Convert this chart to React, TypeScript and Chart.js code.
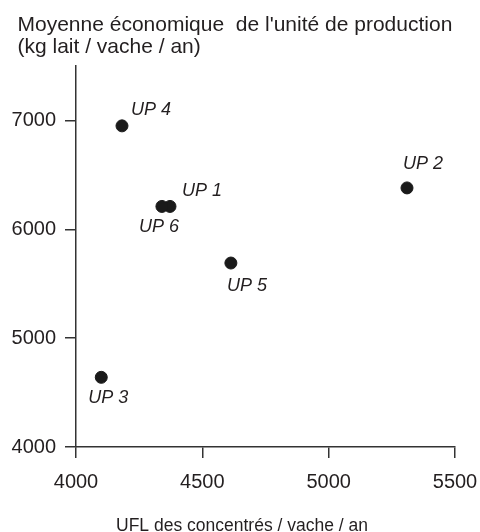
import React, { useEffect, useRef } from "react";
import { Chart, registerables } from "chart.js";

Chart.register(...registerables);

const unitNames = ["UP 1", "UP 2", "UP 3", "UP 4", "UP 5", "UP 6"];
const concentrateUFL = [4372, 5310, 4100, 4182, 4613, 4340];
const milkYield = [6210, 6380, 4640, 6950, 5690, 6210];
const xTickValues = [4000, 4500, 5000, 5500];
const yTickValues = [4000, 5000, 6000, 7000];
const titleLines = ["Moyenne économique  de l'unité de production", "(kg lait / vache / an)"];
const xAxisTitle = "UFL des concentrés / vache / an";

// label placement relative to each point (style)
const labelOffsets: [number, number][] = [
  [32, -15],
  [16, -24],
  [7, 21],
  [29, -16],
  [16, 23],
  [-3, 21],
];

const FONT = "'Liberation Sans', Arial, Helvetica, sans-serif";
const INK = "#231f20";

export default function App() {
  const ref = useRef<HTMLCanvasElement | null>(null);

  useEffect(() => {
    const canvas = ref.current;
    if (!canvas) return;

    const labelPlugin = {
      id: "pointLabels",
      afterDatasetsDraw(chart: any) {
        const ctx = chart.ctx;
        const meta = chart.getDatasetMeta(0);
        ctx.save();
        ctx.font = `italic 18px ${FONT}`;
        ctx.fillStyle = INK;
        ctx.textAlign = "center";
        ctx.textBaseline = "middle";
        meta.data.forEach((pt: any, i: number) => {
          const [dx, dy] = labelOffsets[i];
          ctx.fillText(unitNames[i], pt.x + dx, pt.y + dy);
        });
        ctx.restore();
      },
    };

    const titlesPlugin = {
      id: "titles",
      afterDraw(chart: any) {
        const ctx = chart.ctx;
        ctx.save();
        ctx.fillStyle = INK;
        ctx.textBaseline = "alphabetic";
        ctx.font = `21px ${FONT}`;
        ctx.textAlign = "left";
        titleLines.forEach((line, i) => {
          ctx.fillText(line, 17.5, 31 + i * 21.5);
        });
        ctx.font = `17.5px ${FONT}`;
        ctx.textAlign = "center";
        ctx.fillText(xAxisTitle, chart.width / 2 + 2, chart.height - 1.5);
        ctx.restore();
      },
    };

    const tickFmt = (v: any) => String(v);

    const chart = new Chart(canvas, {
      type: "scatter",
      data: {
        datasets: [
          {
            data: concentrateUFL.map((x, i) => ({ x, y: milkYield[i] })),
            backgroundColor: "#1a1a1a",
            borderColor: "#1a1a1a",
            pointRadius: 6,
            pointHoverRadius: 6,
          },
        ],
      },
      options: {
        responsive: false,
        animation: false,
        layout: { padding: { left: 6, right: 25, top: 66, bottom: 26 } },
        plugins: {
          legend: { display: false },
          tooltip: { enabled: false },
          title: { display: false },
        },
        scales: {
          x: {
            type: "linear",
            min: 4000,
            max: 5500,
            afterBuildTicks: (s: any) => {
              s.ticks = xTickValues.map((v) => ({ value: v }));
            },
            afterFit: (s: any) => {
              s.paddingRight = 0;
              s.paddingLeft = 0;
            },
            ticks: {
              color: INK,
              padding: 12,
              callback: tickFmt,
              font: { family: FONT, size: 20, lineHeight: 1.2 },
            },
            grid: {
              drawOnChartArea: false,
              drawTicks: true,
              tickLength: 11,
              color: "#333",
              lineWidth: 1.5,
            },
            border: { display: true, color: "#333", width: 1.5 },
          },
          y: {
            type: "linear",
            min: 4000,
            max: 7500,
            afterBuildTicks: (s: any) => {
              s.ticks = yTickValues.map((v) => ({ value: v }));
            },
            afterFit: (s: any) => {
              s.width = 70;
            },
            ticks: {
              color: INK,
              padding: 9,
              callback: tickFmt,
              font: { family: FONT, size: 20, lineHeight: 1.2 },
            },
            grid: {
              drawOnChartArea: false,
              drawTicks: true,
              tickLength: 11,
              color: "#333",
              lineWidth: 1.5,
            },
            border: { display: true, color: "#333", width: 1.5 },
          },
        },
      },
      plugins: [labelPlugin, titlesPlugin],
    });

    return () => chart.destroy();
  }, []);

  return (
    <div style={{ position: "fixed", left: 0, top: 0, width: 480, height: 532, background: "#fff" }}>
      <canvas ref={ref} width={480} height={532} />
    </div>
  );
}
